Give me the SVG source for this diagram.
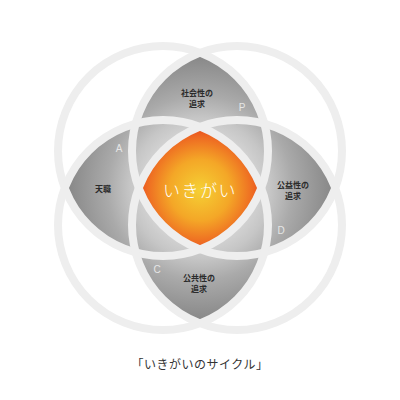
<svg xmlns="http://www.w3.org/2000/svg" width="400" height="400" viewBox="0 0 400 400">
<defs>
<radialGradient id="gGray" gradientUnits="userSpaceOnUse" cx="200" cy="188" r="140">
<stop offset="0.35" stop-color="#d8d8d8"/>
<stop offset="0.5" stop-color="#c6c6c6"/>
<stop offset="0.66" stop-color="#aaaaaa"/>
<stop offset="0.95" stop-color="#878787"/>
</radialGradient>
<radialGradient id="gOrange" gradientUnits="userSpaceOnUse" cx="200" cy="190" r="68">
<stop offset="0" stop-color="#f5d034"/>
<stop offset="0.45" stop-color="#f4a727"/>
<stop offset="0.78" stop-color="#ee6a22"/>
<stop offset="1" stop-color="#e4361b"/>
</radialGradient>
<style>
.petal{fill:url(#gGray)}
.ring{fill:none;stroke:#eeeeee;stroke-width:8}
.lbl{font-family:"Noto Sans CJK JP","Noto Sans",sans-serif;font-size:8px;font-weight:700;fill:#2b2b2b;text-anchor:middle}
.ltr{font-family:"Liberation Sans","DejaVu Sans",sans-serif;font-size:10px;fill:#e6e6e6;text-anchor:middle}
</style>
</defs>
<rect width="400" height="400" fill="#ffffff"/>
<g id="petal-top">
<path class="petal" d="M200 52.7A105 105 0 0 1 200 249.3A105 105 0 0 1 200 52.7Z"/>
</g>
<g id="petal-bottom">
<path class="petal" d="M200 126.7A105 105 0 0 1 200 323.3A105 105 0 0 1 200 126.7Z"/>
</g>
<g id="petal-left">
<path class="petal" d="M64.7 188A105 105 0 0 1 261.3 188A105 105 0 0 1 64.7 188Z"/>
</g>
<g id="petal-right">
<path class="petal" d="M138.7 188A105 105 0 0 1 335.3 188A105 105 0 0 1 138.7 188Z"/>
</g>
<g id="center">
<path fill="url(#gOrange)" d="M138.7 188A105 105 0 0 1 200 126.7A105 105 0 0 1 261.3 188A105 105 0 0 1 200 249.3A105 105 0 0 1 138.7 188Z"/>
</g>
<g id="rings">
<circle class="ring" cx="163" cy="151" r="105"/>
<circle class="ring" cx="237" cy="151" r="105"/>
<circle class="ring" cx="163" cy="225" r="105"/>
<circle class="ring" cx="237" cy="225" r="105"/>
</g>
<g id="label-top">
<text class="lbl" x="197" y="96">社会性の</text>
<text class="lbl" x="197" y="107">追求</text>
<text class="ltr" x="242" y="111">P</text>
</g>
<g id="label-left">
<text class="lbl" x="103" y="192">天職</text>
<text class="ltr" x="119" y="152">A</text>
</g>
<g id="label-right">
<text class="lbl" x="293" y="188">公益性の</text>
<text class="lbl" x="293" y="199">追求</text>
<text class="ltr" x="281" y="234">D</text>
</g>
<g id="label-bottom">
<text class="lbl" x="199" y="281">公共性の</text>
<text class="lbl" x="199" y="292">追求</text>
<text class="ltr" x="157" y="273">C</text>
</g>
<g id="label-center">
<text x="200" y="197" font-family="'Noto Sans CJK JP','Noto Sans',sans-serif" font-size="17" font-weight="300" fill="#ffffff" text-anchor="middle" letter-spacing="1.5">いきがい</text>
</g>
<g id="caption">
<text x="200" y="369" font-family="'Noto Sans CJK JP','Noto Sans',sans-serif" font-size="12" fill="#333333" text-anchor="middle" letter-spacing="0.5">「いきがいのサイクル」</text>
</g>
</svg>
